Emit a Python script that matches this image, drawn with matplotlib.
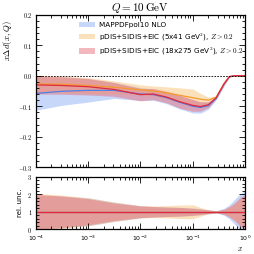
import matplotlib
matplotlib.use("Agg")
import matplotlib.pyplot as plt
import numpy as np
from matplotlib.patches import Patch
from matplotlib.ticker import AutoMinorLocator, FixedLocator, FixedFormatter

# log10(x) grid
logx = [-4, -3.5, -3, -2.5, -2, -1.75, -1.5, -1.25, -1, -0.85, -0.7, -0.55, -0.4, -0.3, -0.2, -0.1, 0]

# central values of x*Delta d
mapp_c = [-0.058, -0.051, -0.048, -0.048, -0.060, -0.062, -0.072, -0.087, -0.100, -0.104, -0.098, -0.074, -0.028, -0.004, 0.0, 0.0, 0.0]
eic5_c = [-0.027, -0.028, -0.032, -0.038, -0.046, -0.050, -0.056, -0.064, -0.072, -0.077, -0.080, -0.070, -0.026, -0.003, 0.0, 0.0, 0.0]
eic18_c = [-0.030, -0.032, -0.036, -0.045, -0.062, -0.060, -0.070, -0.085, -0.097, -0.101, -0.095, -0.072, -0.026, -0.003, 0.0, 0.0, 0.0]

# relative uncertainty (half width)
mapp_r = [0.95, 0.9, 0.8, 0.55, 0.35, 0.3, 0.27, 0.25, 0.22, 0.18, 0.12, 0.06, 0.2, 0.4, 0.7, 1.0, 1.2]
eic5_r = [1.05, 0.95, 0.8, 0.55, 0.35, 0.33, 0.35, 0.38, 0.4, 0.25, 0.12, 0.05, 0.12, 0.25, 0.45, 0.7, 0.9]
eic18_r = [1.0, 0.9, 0.75, 0.5, 0.33, 0.3, 0.27, 0.25, 0.2, 0.15, 0.1, 0.05, 0.15, 0.3, 0.5, 0.8, 1.0]

labels = ["MAPPDFpol10 NLO",
          r"pDIS+SIDIS+EIC (5x41 GeV$^2$), $Z > 0.2$",
          r"pDIS+SIDIS+EIC (18x275 GeV$^2$), $Z > 0.2$"]
band_cols = ["#8fb0f5", "#f9c27a", "#e8707e"]
line_cols = ["#4f7fe8", "#f39a2a", "#e0283f"]

plt.rcParams["mathtext.fontset"] = "cm"

fig = plt.figure(figsize=(2.54, 2.54), dpi=100)
ax = fig.add_axes([0.1406, 0.3413, 0.824, 0.601])
axr = fig.add_axes([0.1406, 0.0972, 0.824, 0.207])

x = 10.0 ** np.array(logx)
series = [(mapp_c, mapp_r), (eic5_c, eic5_r), (eic18_c, eic18_r)]
for (c, r), bc, lc in zip(series, band_cols, line_cols):
    c = np.array(c)
    r = np.array(r)
    ax.fill_between(x, c * (1 - r), c * (1 + r), color=bc, alpha=0.5, lw=0)
    ax.plot(x, c, color=lc, lw=0.9)
    axr.fill_between(x, 1 - r, 1 + r, color=bc, alpha=0.5, lw=0)
    axr.plot(x, np.ones_like(x), color=lc, lw=0.9)

ax.axhline(0, color="k", ls="--", lw=0.6, dashes=(2, 1.5))

for a in (ax, axr):
    a.set_xscale("log")
    a.set_xlim(1e-4, 1)
    a.tick_params(which="both", direction="in", top=True, right=True, labelsize=4.5, width=0.6, pad=2.5)
    a.tick_params(which="major", length=4)
    a.tick_params(which="minor", length=2)
    a.yaxis.set_minor_locator(AutoMinorLocator(5))
    for s in a.spines.values():
        s.set_linewidth(0.9)

ax.set_ylim(-0.3, 0.2)
yt = [-0.3, -0.2, -0.1, 0.0, 0.1, 0.2]
ax.yaxis.set_major_locator(FixedLocator(yt))
ax.yaxis.set_major_formatter(FixedFormatter([r"$%.1f$" % v for v in yt]))
ax.tick_params(labelbottom=False)
ax.set_ylabel(r"$x\Delta d(x,Q)$", fontsize=6.3, labelpad=1)
ax.yaxis.set_label_coords(-0.105, 0.83)
ax.set_title(r"$Q = 10\,\mathrm{GeV}$", fontsize=8, pad=2)

handles = [Patch(facecolor=bc, alpha=0.5, edgecolor="none") for bc in band_cols]
ax.legend(handles, labels, loc="upper center", bbox_to_anchor=(0.6, 0.99), frameon=False,
          fontsize=5.2, handlelength=2.2, handleheight=0.8, labelspacing=0.45,
          handletextpad=0.6, borderaxespad=0.4)

axr.set_ylim(0, 3)
rt = [0, 1, 2, 3]
axr.yaxis.set_major_locator(FixedLocator(rt))
axr.yaxis.set_major_formatter(FixedFormatter([r"$%d$" % v for v in rt]))
axr.tick_params(axis="x", which="both", pad=3.5)
axr.set_ylabel("rel. unc.", fontsize=5, labelpad=3)
axr.set_xlabel(r"$x$", fontsize=5.5, loc="right", labelpad=0)
axr.xaxis.set_label_coords(0.99, -0.27)

fig.savefig("out.png", dpi=100)
